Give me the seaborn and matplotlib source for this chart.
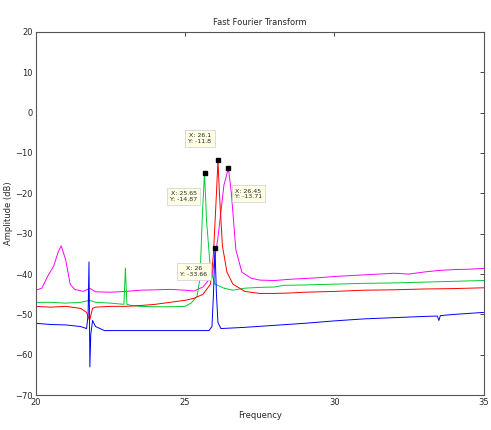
import matplotlib
matplotlib.use("Agg")
import matplotlib.pyplot as plt
import pandas as pd
import seaborn as sns

# Spectra (frequency, amplitude in dB)
magenta_x = [20.0, 20.2, 20.4, 20.6, 20.75, 20.85, 21.0, 21.15, 21.3, 21.6, 21.8, 22.0, 22.5,
             23.0, 23.5, 24.0, 24.5, 25.0, 25.3, 25.6, 25.9, 26.1, 26.3, 26.45, 26.55, 26.7,
             26.9, 27.2, 27.5, 28.0, 28.5, 29.0, 29.5, 30.0, 30.5, 31.0, 31.5, 32.0, 32.5,
             33.0, 33.5, 34.0, 34.5, 35.0]
magenta_y = [-44.0, -43.5, -40.5, -38.0, -34.5, -33.0, -36.5, -42.5, -43.8, -44.3, -43.5, -44.4,
             -44.5, -44.3, -44.0, -43.9, -43.8, -44.0, -44.2, -43.2, -40.5, -31.0, -18.0, -13.71,
             -20.0, -34.0, -39.5, -41.0, -41.5, -41.6, -41.3, -41.1, -40.9, -40.6, -40.4, -40.2,
             -40.0, -39.8, -40.0, -39.5, -39.1, -38.9, -38.8, -38.6]

green_x = [20.0, 20.5, 21.0, 21.5, 21.8, 22.0, 22.5, 22.95, 23.0, 23.05, 23.2, 23.5, 24.0, 24.5,
           25.0, 25.2, 25.4, 25.5, 25.58, 25.65, 25.72, 25.85, 26.0, 26.3, 26.6, 27.0, 27.5,
           28.0, 28.3, 29.0, 30.0, 31.0, 32.0, 33.0, 34.0, 35.0]
green_y = [-47.0, -47.0, -47.2, -47.0, -46.5, -47.0, -47.2, -47.5, -38.5, -47.5, -47.8, -48.0,
           -48.1, -48.1, -48.0, -47.2, -45.5, -41.0, -25.0, -14.87, -27.0, -39.0, -42.5, -43.5,
           -44.0, -43.5, -43.3, -43.2, -42.8, -42.7, -42.5, -42.3, -42.2, -42.0, -41.8, -41.6]

red_x = [20.0, 20.5, 21.0, 21.5, 21.7, 21.8, 21.9, 22.0, 22.5, 23.0, 23.5, 24.0, 24.5, 25.0,
         25.3, 25.6, 25.85, 25.95, 26.05, 26.1, 26.15, 26.25, 26.4, 26.6, 27.0, 27.5, 28.0,
         28.5, 29.0, 30.0, 31.0, 32.0, 33.0, 34.0, 35.0]
red_y = [-48.0, -48.2, -48.0, -48.5, -49.5, -51.5, -48.5, -48.2, -48.0, -48.0, -47.8, -47.5,
         -47.0, -46.5, -46.0, -45.0, -42.5, -35.0, -20.0, -11.8, -20.0, -33.0, -39.5, -42.5,
         -44.3, -44.8, -44.8, -44.7, -44.5, -44.3, -44.0, -43.9, -43.7, -43.6, -43.4]

blue_x = [20.0, 20.5, 21.0, 21.5, 21.7, 21.75, 21.78, 21.81, 21.84, 21.9, 22.0, 22.3, 23.0,
          24.0, 25.0, 25.8, 25.9, 25.95, 26.0, 26.05, 26.1, 26.2, 27.0, 28.0, 29.0, 30.0,
          31.0, 32.0, 33.0, 33.45, 33.5, 33.55, 34.0, 35.0]
blue_y = [-52.2, -52.5, -52.6, -53.0, -53.5, -50.0, -37.0, -63.0, -55.0, -51.5, -53.0, -54.0,
          -54.0, -54.0, -54.0, -54.0, -53.0, -45.0, -33.66, -45.0, -52.0, -53.5, -53.2, -52.7,
          -52.2, -51.6, -51.1, -50.8, -50.5, -50.4, -51.5, -50.3, -50.0, -49.5]

series_names = ["magenta", "green", "red", "blue"]
series_colors = ["#ff00ff", "#00cc33", "#ff0000", "#0000ff"]

# Data tips: (x, y, label, offset in pixels)
tip_x = [26.1, 25.65, 26.45, 26.0]
tip_y = [-11.8, -14.87, -13.71, -33.66]
tip_labels = ["X: 26.1\nY: -11.8", "X: 25.65\nY: -14.87", "X: 26.45\nY: -13.71", "X: 26\nY: -33.66"]
tip_offsets = [(-18, 22), (-21, -24), (20, -26), (-21, -23)]

frames = []
for name, xs, ys in [("magenta", magenta_x, magenta_y), ("green", green_x, green_y),
                     ("red", red_x, red_y), ("blue", blue_x, blue_y)]:
    frames.append(pd.DataFrame({"Frequency": xs, "Amplitude": ys, "series": name}))
df = pd.concat(frames, ignore_index=True)

sns.set_style("white")
plt.rcParams["font.family"] = ["DejaVu Sans"]

fig = plt.figure(figsize=(4.91, 4.30), dpi=100)
ax = fig.add_axes([0.073, 0.081, 0.912, 0.845])

sns.lineplot(data=df, x="Frequency", y="Amplitude", hue="series", hue_order=series_names,
             palette=series_colors, estimator=None, sort=False, linewidth=0.7,
             legend=False, ax=ax)

ax.plot(tip_x, tip_y, "s", color="black", markersize=3.5, zorder=5)
for x, y, label, off in zip(tip_x, tip_y, tip_labels, tip_offsets):
    ax.annotate(label, (x, y), xytext=off, textcoords="offset pixels", ha="center",
                va="center", fontsize=4.5,
                bbox=dict(boxstyle="square,pad=0.5", fc="#ffffe6", ec="#cccccc", lw=0.5),
                zorder=6)

ax.set_xlim(20, 35)
ax.set_ylim(-70, 20)
ax.set_xticks([20, 25, 30, 35])
ax.set_yticks(list(range(-70, 21, 10)))
ax.tick_params(direction="in", top=True, right=True, labelsize=6, length=3, width=0.6,
               pad=2)
for spine in ax.spines.values():
    spine.set_color("#555555")
    spine.set_linewidth(0.8)

ax.set_title("Fast Fourier Transform", fontsize=6, pad=5)
ax.set_xlabel("Frequency", fontsize=6, labelpad=3)
ax.set_ylabel("Amplitude (dB)", fontsize=6, labelpad=2)

fig.savefig("out.png", dpi=100, facecolor="white")
